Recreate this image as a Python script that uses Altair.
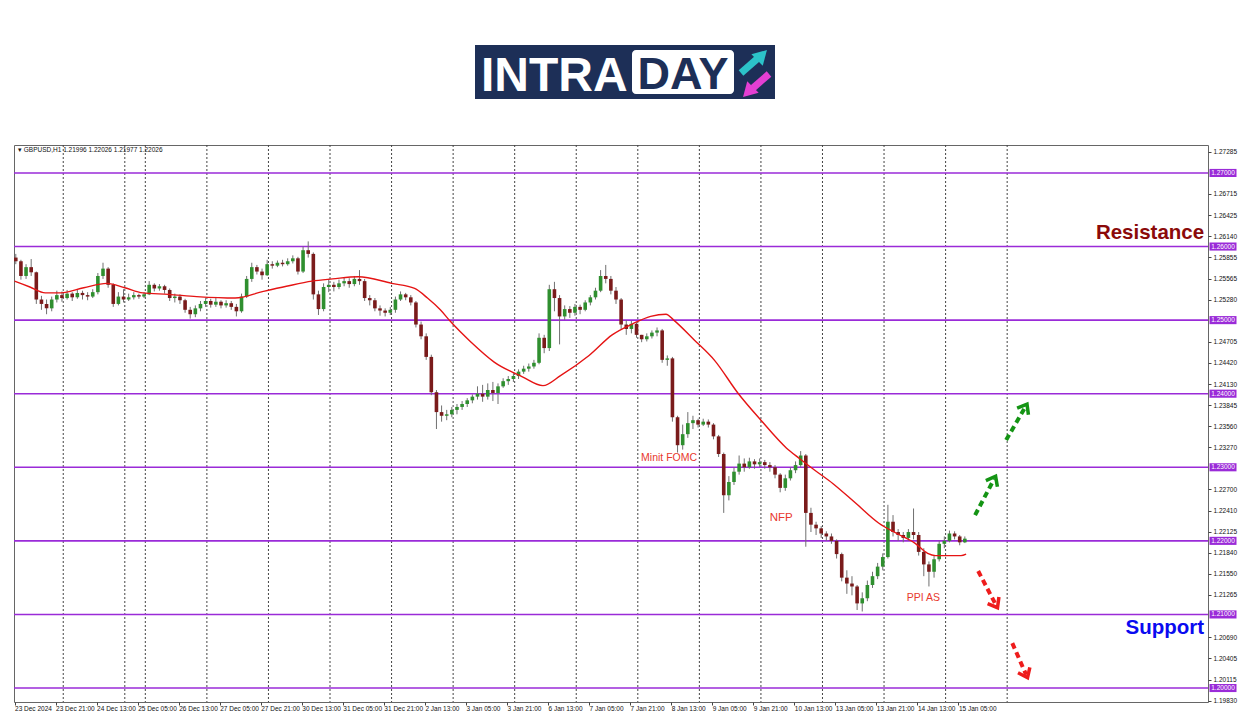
import altair as alt
import pandas as pd

# ---------------- data (GBPUSD H1, drawn as 2-hour candles) ----------------
first_open = 1.2585
closes = [
    1.2580, 1.2560, 1.2572, 1.2565, 1.2528, 1.2522, 1.2516, 1.2528, 1.2534, 1.2530,
    1.2536, 1.2531, 1.2537, 1.2534, 1.2532, 1.2538, 1.2560, 1.2570, 1.2548, 1.2522, 1.2532, 1.2528,
    1.2531, 1.2534, 1.2532, 1.2535,
    1.2548, 1.2543, 1.2546, 1.2541, 1.2530, 1.2532, 1.2527, 1.2514, 1.2508, 1.2516, 1.2522, 1.2526,
    1.2521, 1.2525, 1.2520, 1.2523, 1.2518, 1.2512, 1.2532, 1.2556, 1.2572, 1.2566, 1.2561, 1.2576,
    1.2574, 1.2578, 1.2576, 1.2580, 1.2584, 1.2566, 1.2595, 1.2590, 1.2535, 1.2515, 1.2545, 1.2548,
    1.2545, 1.2550, 1.2553, 1.2549, 1.2556, 1.2553, 1.2530, 1.2527, 1.2516, 1.2513, 1.2510, 1.2514,
    1.2528, 1.2535, 1.2531, 1.2524, 1.2494, 1.2478, 1.2450, 1.2402, 1.2375, 1.2370, 1.2372, 1.2378,
    1.2382, 1.2386, 1.2391, 1.2396, 1.2400, 1.2396, 1.2405, 1.2401, 1.2410, 1.2417, 1.2420, 1.2424,
    1.2430, 1.2434, 1.2437, 1.2442, 1.2476, 1.2462, 1.2542, 1.2530, 1.2505, 1.2515, 1.2510, 1.2518,
    1.2514, 1.2524, 1.2531, 1.2540, 1.2560, 1.2556, 1.2540, 1.2528, 1.2494, 1.2488, 1.2495, 1.2480,
    1.2474, 1.2478, 1.2483, 1.2486, 1.2446, 1.2448, 1.2368, 1.2330, 1.2345, 1.2360, 1.2364, 1.2358,
    1.2362, 1.2358, 1.2342, 1.2318, 1.2262, 1.2280, 1.2294, 1.2305, 1.2300, 1.2308, 1.2304, 1.2307,
    1.2303, 1.2300, 1.2290, 1.2272, 1.2285, 1.2296, 1.2303, 1.2316, 1.2238, 1.2222, 1.2217, 1.2210,
    1.2206, 1.2200, 1.2182, 1.2150, 1.2142, 1.2138, 1.2115, 1.2122, 1.2140, 1.2152, 1.2165, 1.2178,
    1.2226, 1.2212, 1.2208, 1.2204, 1.2212, 1.2208, 1.2185, 1.2168, 1.2158, 1.2175, 1.2196, 1.2200,
    1.2210, 1.2206, 1.2198, 1.2203,
]
highs = [
    1.2590, 1.2582, 1.2576, 1.2583, 1.2566, 1.2533, 1.2528, 1.2532, 1.2540, 1.2539,
    1.2541, 1.2538, 1.2542, 1.2540, 1.2538, 1.2542, 1.2564, 1.2578, 1.2572, 1.2550, 1.2538, 1.2542,
    1.2536, 1.2538, 1.2536, 1.2538,
    1.2553, 1.2550, 1.2549, 1.2548, 1.2543, 1.2536, 1.2535, 1.2529, 1.2518, 1.2520, 1.2526, 1.2530,
    1.2529, 1.2530, 1.2527, 1.2527, 1.2526, 1.2522, 1.2536, 1.2560, 1.2578, 1.2575, 1.2570, 1.2582,
    1.2580, 1.2581, 1.2582, 1.2584, 1.2588, 1.2586, 1.2600, 1.2607, 1.2592, 1.2540, 1.2550, 1.2556,
    1.2552, 1.2555, 1.2558, 1.2557, 1.2560, 1.2568, 1.2556, 1.2534, 1.2530, 1.2520, 1.2516, 1.2518,
    1.2532, 1.2539, 1.2537, 1.2534, 1.2526, 1.2498, 1.2482, 1.2453, 1.2405, 1.2384, 1.2378, 1.2382,
    1.2386, 1.2390, 1.2394, 1.2399, 1.2410, 1.2412, 1.2414, 1.2416, 1.2414, 1.2421, 1.2424, 1.2428,
    1.2433, 1.2438, 1.2441, 1.2446, 1.2482, 1.2480, 1.2548, 1.2552, 1.2534, 1.2520, 1.2519, 1.2522,
    1.2521, 1.2527, 1.2534, 1.2544, 1.2568, 1.2575, 1.2560, 1.2545, 1.2530, 1.2500, 1.2499, 1.2497,
    1.2480, 1.2482, 1.2486, 1.2490, 1.2488, 1.2452, 1.2450, 1.2370, 1.2358, 1.2375, 1.2370, 1.2366,
    1.2366, 1.2365, 1.2360, 1.2344, 1.2320, 1.2288, 1.2300, 1.2316, 1.2312, 1.2313, 1.2311, 1.2312,
    1.2310, 1.2307, 1.2303, 1.2292, 1.2290, 1.2300, 1.2308, 1.2322, 1.2318, 1.2245, 1.2226, 1.2220,
    1.2213, 1.2210, 1.2202, 1.2184, 1.2160, 1.2152, 1.2140, 1.2130, 1.2146, 1.2158, 1.2170, 1.2183,
    1.2249, 1.2235, 1.2216, 1.2212, 1.2216, 1.2244, 1.2212, 1.2190, 1.2172, 1.2180, 1.2200, 1.2206,
    1.2214, 1.2213, 1.2208, 1.2206,
]
lows = [
    1.2576, 1.2555, 1.2556, 1.2560, 1.2522, 1.2514, 1.2508, 1.2512, 1.2524, 1.2525,
    1.2528, 1.2526, 1.2529, 1.2528, 1.2527, 1.2530, 1.2535, 1.2556, 1.2544, 1.2518, 1.2520, 1.2524,
    1.2526, 1.2528, 1.2529, 1.2530,
    1.2534, 1.2539, 1.2540, 1.2536, 1.2526, 1.2524, 1.2522, 1.2510, 1.2502, 1.2504, 1.2512, 1.2518,
    1.2517, 1.2518, 1.2516, 1.2517, 1.2514, 1.2505, 1.2510, 1.2530, 1.2552, 1.2562, 1.2555, 1.2560,
    1.2570, 1.2572, 1.2573, 1.2574, 1.2577, 1.2562, 1.2564, 1.2585, 1.2528, 1.2507, 1.2512, 1.2538,
    1.2539, 1.2542, 1.2546, 1.2544, 1.2546, 1.2548, 1.2526, 1.2520, 1.2512, 1.2506, 1.2505, 1.2507,
    1.2510, 1.2526, 1.2527, 1.2520, 1.2490, 1.2474, 1.2446, 1.2398, 1.2352, 1.2362, 1.2364, 1.2368,
    1.2372, 1.2378, 1.2382, 1.2387, 1.2392, 1.2389, 1.2392, 1.2390, 1.2386, 1.2408, 1.2412, 1.2416,
    1.2420, 1.2427, 1.2430, 1.2434, 1.2440, 1.2455, 1.2458, 1.2512, 1.2467, 1.2500, 1.2503, 1.2506,
    1.2508, 1.2512, 1.2520, 1.2528, 1.2538, 1.2550, 1.2535, 1.2522, 1.2488, 1.2480, 1.2482, 1.2476,
    1.2470, 1.2471, 1.2475, 1.2478, 1.2442, 1.2438, 1.2362, 1.2320, 1.2324, 1.2340, 1.2352, 1.2354,
    1.2356, 1.2354, 1.2338, 1.2314, 1.2238, 1.2255, 1.2276, 1.2290, 1.2294, 1.2298, 1.2298, 1.2300,
    1.2298, 1.2294, 1.2285, 1.2266, 1.2268, 1.2282, 1.2292, 1.2300, 1.2192, 1.2212, 1.2208, 1.2204,
    1.2200, 1.2196, 1.2176, 1.2145, 1.2128, 1.2126, 1.2106, 1.2104, 1.2118, 1.2136, 1.2148, 1.2160,
    1.2176, 1.2206, 1.2200, 1.2198, 1.2200, 1.2202, 1.2180, 1.2152, 1.2138, 1.2150, 1.2172, 1.2190,
    1.2198, 1.2202, 1.2194, 1.2197,
]

# moving average (red line), read at bar positions
ma_bars = [0, 6, 12, 18, 27, 36, 43, 50, 60, 71, 86, 97, 106, 116, 124, 134, 147, 156, 161, 166,
           170, 178, 187, 198, 206, 213, 224, 233, 241, 248, 254, 257, 265, 273, 282, 291, 301,
           306, 312, 319, 328, 337, 344, 351, 356, 359, 369, 371]
ma_values = [1.2553, 1.2545, 1.2537, 1.2537, 1.2544, 1.2550, 1.2544, 1.2537, 1.2535, 1.2532,
             1.2530, 1.2539, 1.2546, 1.2553, 1.2556, 1.2559, 1.2550, 1.2543, 1.2530, 1.2514,
             1.2498, 1.2470, 1.2443, 1.2423, 1.2411, 1.2425, 1.2452, 1.2480, 1.2495, 1.2505,
             1.2508, 1.2500, 1.2473, 1.2445, 1.2401, 1.2364, 1.2326, 1.2312, 1.2296, 1.2278,
             1.2251, 1.2224, 1.2210, 1.2197, 1.2183, 1.2180, 1.2180, 1.2182]

level_prices = [1.27, 1.26, 1.25, 1.24, 1.23, 1.22, 1.21, 1.20]
price_ticks = [1.27285, 1.26715, 1.26425, 1.26140, 1.25855, 1.25565, 1.25280, 1.24705, 1.24420,
               1.24130, 1.23845, 1.23560, 1.23270, 1.22700, 1.22410, 1.22125, 1.21840, 1.21550,
               1.21265, 1.20690, 1.20405, 1.20115, 1.19830]
separator_bars = [19, 43, 51, 75, 99, 123, 147, 171, 195, 219, 243, 267, 291, 315, 339, 363, 387]
time_labels = ["23 Dec 2024", "23 Dec 21:00", "24 Dec 13:00", "25 Dec 05:00", "26 Dec 13:00",
               "27 Dec 05:00", "27 Dec 21:00", "30 Dec 13:00", "31 Dec 05:00", "31 Dec 21:00",
               "2 Jan 13:00", "3 Jan 05:00", "3 Jan 21:00", "6 Jan 13:00", "7 Jan 05:00",
               "7 Jan 21:00", "8 Jan 13:00", "9 Jan 05:00", "9 Jan 21:00", "10 Jan 13:00",
               "13 Jan 05:00", "13 Jan 21:00", "14 Jan 13:00", "15 Jan 05:00"]
time_label_bars = [16 * i for i in range(len(time_labels))]

note_texts = ["Minit FOMC", "NFP", "PPI AS"]
note_bars = [255.2, 298.9, 354.3]
note_prices = [1.2313, 1.2231, 1.2122]
note_sizes = [10.5, 11.5, 10.5]

zone_texts = ["Resistance", "Support"]
zone_prices = [1.2618, 1.2082]
zone_colors = ["#8b0a0a", "#0a0af0"]
zone_bar = 463.8

arrow_colors = ["#149414", "#149414", "#ee1c1c", "#ee1c1c"]
arrow_start_bars = [374.5, 386.6, 375.7, 389.0]
arrow_start_prices = [1.2235, 1.2337, 1.2159, 1.2061]
arrow_end_bars = [381.9, 394.1, 382.6, 394.4]
arrow_end_prices = [1.2284, 1.2382, 1.2113, 1.2018]
arrow_angles = [28, 30, 150, 155]

header_text = "\u25be GBPUSD,H1  1.21996 1.22026 1.21977 1.22026"

# ---------------- tables ----------------
candles = pd.DataFrame({
    "bar": [2 * i + 0.5 for i in range(len(closes))],
    "open": [first_open] + closes[:-1],
    "close": closes,
    "high": highs,
    "low": lows,
})
ma_df = pd.DataFrame({"bar": ma_bars, "ma": ma_values})
levels_df = pd.DataFrame({"price": level_prices, "label": [f"{p:.5f}" for p in level_prices]})
sep_df = pd.DataFrame({"bar": separator_bars})
notes_df = pd.DataFrame({"bar": note_bars, "price": note_prices, "text": note_texts, "size": note_sizes})
zones_df = pd.DataFrame({"bar": [zone_bar] * 2, "price": zone_prices, "text": zone_texts, "col": zone_colors})
arrows_df = pd.DataFrame({
    "b1": arrow_start_bars, "p1": arrow_start_prices,
    "b2": arrow_end_bars, "p2": arrow_end_prices,
    "col": arrow_colors, "ang": arrow_angles,
})
one = pd.DataFrame({"k": [0]})

W, H = 1194, 557
FONT = "Liberation Sans"
PURPLE = "#9a2bd8"

xs = alt.Scale(domain=[-0.2, 465.3], nice=False, zero=False, padding=0)
ys = alt.Scale(domain=[1.1981, 1.2738], nice=False, zero=False, padding=0)

label_expr = "[" + ",".join(f"'{s}'" for s in time_labels) + "][round(datum.value / 16)]"

x_axis = alt.Axis(values=time_label_bars, labelExpr=label_expr, labelAlign="left",
                  labelBaseline="top", labelPadding=0, tickSize=3, tickColor="#444",
                  domain=False, grid=False, labelFontSize=6.5, labelFont=FONT,
                  labelColor="#111", labelFlush=False, labelOverlap=False, labelBound=False,
                  title=None)
y_axis = alt.Axis(orient="right", values=price_ticks, format=".5f", tickSize=3,
                  tickColor="#444", domain=False, grid=False, labelFontSize=6.5,
                  labelFont=FONT, labelColor="#111", labelPadding=2, labelOverlap=False,
                  labelFlush=False, labelBound=False, title=None)


def X(field):
    return alt.X(field, type="quantitative", scale=xs, axis=x_axis)


def Y(field):
    return alt.Y(field, type="quantitative", scale=ys, axis=y_axis)


# separators
seps = alt.Chart(sep_df).mark_rule(color="#444", strokeDash=[2, 2], strokeWidth=1).encode(x=X("bar"))

# purple levels
levels = alt.Chart(levels_df).mark_rule(color=PURPLE, strokeWidth=1.6).encode(y=Y("price"))

# candles
wicks = alt.Chart(candles).mark_rule(color="#707070", strokeWidth=1).encode(
    x=X("bar"), y=Y("low"), y2="high:Q")
bodies = alt.Chart(candles).mark_bar(size=3.6).encode(
    x=X("bar"), y=Y("open"), y2="close:Q",
    color=alt.condition("datum.close >= datum.open", alt.value("#2f8f2f"), alt.value("#7a1b1b")),
)

ma_line = alt.Chart(ma_df).mark_line(color="#e51414", strokeWidth=1.4, interpolate="monotone").encode(
    x=X("bar"), y=Y("ma"))

notes = alt.Chart(notes_df).mark_text(color="#e8382e", font=FONT, baseline="middle").encode(
    x=X("bar"), y=Y("price"), text="text:N", size=alt.Size("size:Q", scale=None))

zones = alt.Chart(zones_df).mark_text(font=FONT, fontWeight="bold", fontSize=20.5, align="right",
                                      baseline="middle").encode(
    x=X("bar"), y=Y("price"), text="text:N", color=alt.Color("col:N", scale=None))

shafts = alt.Chart(arrows_df).mark_rule(strokeDash=[6, 4], strokeWidth=4).encode(
    x=X("b1"), y=Y("p1"), x2="b2:Q", y2="p2:Q", color=alt.Color("col:N", scale=None))
heads = alt.Chart(arrows_df).mark_point(shape="M-1,0.8L0,-0.5L1,0.8", filled=False, strokeWidth=3.5,
                                        size=170, opacity=1).encode(
    x=X("b2"), y=Y("p2"), color=alt.Color("col:N", scale=None), angle=alt.Angle("ang:Q", scale=None))

# purple price boxes on the right scale
boxes = alt.Chart(levels_df).mark_point(shape="M-1,-0.3L1,-0.3L1,0.3L-1,0.3Z", filled=True,
                                        size=729, opacity=1, color=PURPLE, strokeWidth=0).encode(
    x=alt.value(W + 15), y=Y("price"))
box_text = alt.Chart(levels_df).mark_text(color="white", fontSize=6.5, font=FONT,
                                          baseline="middle").encode(
    x=alt.value(W + 15), y=Y("price"), text="label:N")

header = alt.Chart(one).mark_text(text=header_text, fontSize=6.5, font=FONT, align="left",
                                  baseline="middle", color="#111").encode(
    x=alt.value(4), y=alt.value(5))

# logo
NAVY = "#1d2f57"
logo_bg = alt.Chart(one).mark_rect(color=NAVY).encode(
    x=alt.value(461), x2=alt.value(761), y=alt.value(-100), y2=alt.value(-46))
logo_intra = alt.Chart(one).mark_text(text="INTRA", font=FONT, fontWeight="bold", fontSize=48,
                                      color="white", align="left", baseline="alphabetic").encode(
    x=alt.value(467), y=alt.value(-54))
logo_box = alt.Chart(one).mark_rect(color="white", cornerRadius=4).encode(
    x=alt.value(618), x2=alt.value(720), y=alt.value(-95), y2=alt.value(-51))
logo_day = alt.Chart(one).mark_text(text="DAY", font=FONT, fontWeight="bold", fontSize=45,
                                    color=NAVY, align="center", baseline="alphabetic").encode(
    x=alt.value(669), y=alt.value(-56))
cyan_shaft = alt.Chart(one).mark_rule(color="#2cc3c9", strokeWidth=7).encode(
    x=alt.value(727), x2=alt.value(743), y=alt.value(-72), y2=alt.value(-86))
cyan_head = alt.Chart(one).mark_point(shape="triangle-up", filled=True, size=260, opacity=1,
                                      color="#2cc3c9", angle=45).encode(
    x=alt.value(748), y=alt.value(-90))
pink_shaft = alt.Chart(one).mark_rule(color="#e43fd3", strokeWidth=7).encode(
    x=alt.value(755), x2=alt.value(739), y=alt.value(-71), y2=alt.value(-57))
pink_head = alt.Chart(one).mark_point(shape="triangle-up", filled=True, size=260, opacity=1,
                                      color="#e43fd3", angle=225).encode(
    x=alt.value(734), y=alt.value(-53))

chart = alt.layer(
    seps, levels, wicks, bodies, ma_line, notes, zones, shafts, heads, boxes, box_text, header,
    logo_bg, logo_intra, logo_box, logo_day, cyan_shaft, cyan_head, pink_shaft, pink_head,
).properties(
    width=W, height=H,
    autosize=alt.AutoSizeParams(type="none"),
    padding={"left": 6, "top": 137, "right": 34, "bottom": 13},
    background="white",
).configure_view(stroke="#666666", strokeWidth=1)

chart.save("out.html", embed_options={"renderer": "svg", "actions": False})
